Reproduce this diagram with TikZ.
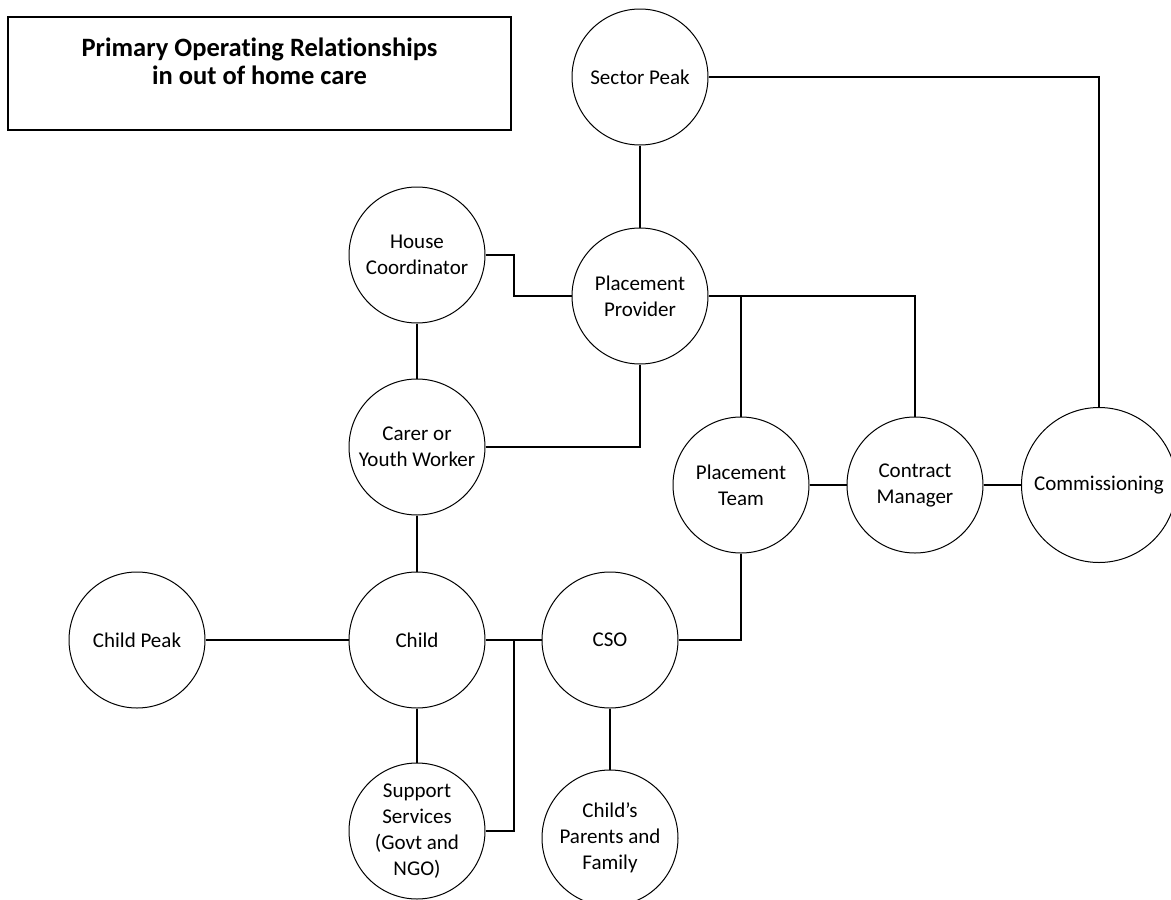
\documentclass[tikz,border=0pt]{standalone}
\usepackage{fontspec}
\setmainfont{Carlito}[Ligatures=NoCommon]
\usetikzlibrary{calc}

\tikzset{
  role/.style={circle, draw, line width=1pt, minimum size=136pt, inner sep=0pt,
    align=center, font=\fontsize{21}{26}\selectfont},
  link/.style={line width=2pt},
}

\begin{document}
\begin{tikzpicture}[x=1pt, y=-1pt]
  \useasboundingbox (0,0) rectangle (1171,900);
  \clip (0,0) rectangle (1171,900);

  % title box
  \node (title) [draw, line width=1.2pt, minimum width=503pt, minimum height=113pt, inner sep=0pt] at (259.5,73.5) {};
  \node (titletext) [align=center, font=\bfseries\fontsize{26.5}{28.5}\selectfont] at ([yshift=12pt]title.center)
    {Primary Operating Relationships\\in out of home care};

  % roles
  \node (sector) [role] at (640,77) {Sector Peak};
  \node (house) [role] at (417,255) {House\\Coordinator};
  \node (provider) [role] at (640,296) {Placement\\Provider};
  \node (carer) [role] at (417,447) {Carer or\\Youth Worker};
  \node (team) [role] at (741,485) {Placement\\Team};
  \node (contract) [role] at (915,485) {Contract\\Manager};
  \node (commission) [role, minimum size=155pt] at (1099,485) {Commissioning};
  \node (childpeak) [role] at (137,640) {Child Peak};
  \node (child) [role] at (417,640) {Child};
  \node (cso) [role] at (610,640) {CSO};
  \node (support) [role] at (417,831) {Support\\Services\\(Govt and\\NGO)};
  \node (family) [role] at (610,838) {Child's\\Parents and\\Family};

  \coordinate (fork) at ($(child.east)!0.5!(cso.west)$);

  % links
  \draw[link] (sector.south) -- (provider.north);
  \draw[link] (sector.east) -| (commission.north);
  \draw[link] (house.east) -- ++(28,0) |- (provider.west);
  \draw[link] (provider.east) -| (contract.north);
  \draw[link] (team.north) |- (provider.east);
  \draw[link] (carer.east) -| (provider.south);
  \draw[link] (house.south) -- (carer.north);
  \draw[link] (carer.south) -- (child.north);
  \draw[link] (team.east) -- (contract.west);
  \draw[link] (contract.east) -- (commission.west);
  \draw[link] (childpeak.east) -- (child.west);
  \draw[link] (child.east) -- (cso.west);
  \draw[link] (support.east) -| (fork);
  \draw[link] (cso.east) -| (team.south);
  \draw[link] (child.south) -- (support.north);
  \draw[link] (cso.south) -- (family.north);
\end{tikzpicture}
\end{document}
